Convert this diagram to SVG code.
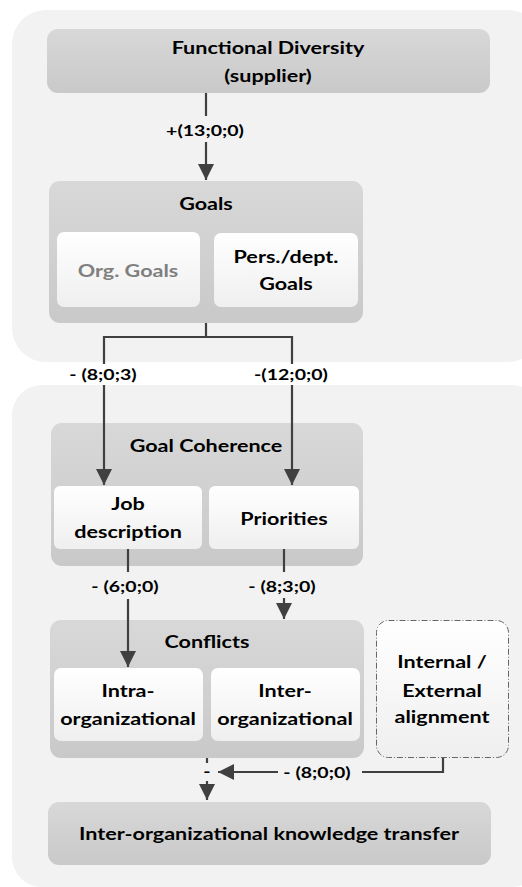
<svg xmlns="http://www.w3.org/2000/svg" width="522" height="887" viewBox="0 0 522 887">
  <defs>
    <linearGradient id="gGrey" x1="0" y1="0" x2="0" y2="1">
      <stop offset="0" stop-color="#d8d8d8"/>
      <stop offset="1" stop-color="#c9c9c9"/>
    </linearGradient>
    <linearGradient id="gWhite" x1="0" y1="0" x2="0" y2="1">
      <stop offset="0" stop-color="#ffffff"/>
      <stop offset="1" stop-color="#efefef"/>
    </linearGradient>
    <marker id="arrow" viewBox="0 0 16 16" markerWidth="16" markerHeight="16" refX="16" refY="8" orient="auto" markerUnits="userSpaceOnUse">
      <path d="M0,0 L16,8 L0,16 Z" fill="#404040"/>
    </marker>
    <style>
      .panel { fill: #f2f2f2; }
      .box { fill: url(#gGrey); }
      .inner { fill: url(#gWhite); }
      .t { font-family: Lato, "Liberation Sans", sans-serif; font-weight: bold; font-size: 17.4px; fill: #000; text-anchor: middle; }
      .lbl { font-family: Lato, "Liberation Sans", sans-serif; font-weight: bold; font-size: 15.5px; fill: #000; text-anchor: middle; }
      .muted { fill: #7f7f7f; }
      .line { fill: none; stroke: #404040; stroke-width: 2.2; }
    </style>
  </defs>

  <!-- background panels -->
  <rect class="panel" x="12" y="10" width="530" height="352" rx="34"/>
  <rect class="panel" x="12" y="385" width="530" height="502" rx="30"/>

  <!-- titles use a wide set: each text is placed by translate(centre, baseline) and widened -->
  <g id="functional-diversity">
    <rect class="box" x="47" y="29" width="443" height="64" rx="11"/>
    <text class="t" transform="translate(268 54) scale(1.24 1)">Functional Diversity</text>
    <text class="t" transform="translate(268 82) scale(1.24 1)">(supplier)</text>
  </g>

  <g id="goals">
    <rect class="box" x="49" y="181" width="314" height="142" rx="11"/>
    <text class="t" transform="translate(206 210) scale(1.24 1)">Goals</text>
    <rect class="inner" x="57" y="232" width="143" height="75" rx="7"/>
    <text class="t muted" transform="translate(128 277) scale(1.24 1)">Org. Goals</text>
    <rect class="inner" x="214" y="233" width="144" height="74" rx="7"/>
    <text class="t" transform="translate(286 263) scale(1.24 1)">Pers./dept.</text>
    <text class="t" transform="translate(286 290) scale(1.24 1)">Goals</text>
  </g>

  <g id="goal-coherence">
    <rect class="box" x="51" y="423" width="312" height="143" rx="11"/>
    <text class="t" transform="translate(206 452) scale(1.24 1)">Goal Coherence</text>
    <rect class="inner" x="54" y="486" width="148" height="63" rx="6"/>
    <text class="t" transform="translate(128 510) scale(1.24 1)">Job</text>
    <text class="t" transform="translate(128 538) scale(1.24 1)">description</text>
    <rect class="inner" x="209" y="486" width="150" height="63" rx="6"/>
    <text class="t" transform="translate(284 525) scale(1.24 1)">Priorities</text>
  </g>

  <g id="conflicts">
    <rect class="box" x="50" y="620" width="314" height="138" rx="11"/>
    <text class="t" transform="translate(207 648) scale(1.24 1)">Conflicts</text>
    <rect class="inner" x="54" y="668" width="149" height="73" rx="7"/>
    <text class="t" transform="translate(128 697) scale(1.24 1)">Intra-</text>
    <text class="t" transform="translate(128 725) scale(1.24 1)">organizational</text>
    <rect class="inner" x="211" y="668" width="149" height="73" rx="7"/>
    <text class="t" transform="translate(285 697) scale(1.24 1)">Inter-</text>
    <text class="t" transform="translate(285 725) scale(1.24 1)">organizational</text>
  </g>

  <g id="alignment">
    <rect class="inner" x="376.5" y="620.5" width="132" height="137" rx="12" stroke="#666666" stroke-width="1" stroke-dasharray="6 2 1 2"/>
    <text class="t" transform="translate(442 668) scale(1.24 1)">Internal /</text>
    <text class="t" transform="translate(442 697) scale(1.24 1)">External</text>
    <text class="t" transform="translate(442 723) scale(1.24 1)">alignment</text>
  </g>

  <g id="knowledge-transfer">
    <rect class="box" x="48" y="802" width="443" height="63" rx="11"/>
    <text class="t" transform="translate(269 840) scale(1.24 1)">Inter-organizational knowledge transfer</text>
  </g>

  <g id="connectors">
    <!-- Functional Diversity to Goals -->
    <line class="line" x1="206" y1="93" x2="206" y2="116"/>
    <line class="line" x1="206" y1="142" x2="206" y2="180" marker-end="url(#arrow)"/>
    <text class="lbl" transform="translate(205 136) scale(1.26 1)">+(13;0;0)</text>

    <!-- Goals split -->
    <polyline class="line" points="206,323 206,337 104,337 104,364"/>
    <polyline class="line" points="206,337 292,337 292,364"/>
    <text class="lbl" transform="translate(103 380) scale(1.26 1)">- (8;0;3)</text>
    <text class="lbl" transform="translate(291 380) scale(1.26 1)">-(12;0;0)</text>
    <line class="line" x1="104" y1="385" x2="104" y2="485" marker-end="url(#arrow)"/>
    <line class="line" x1="292" y1="385" x2="292" y2="485" marker-end="url(#arrow)"/>

    <!-- Goal Coherence to Conflicts -->
    <line class="line" x1="128" y1="549" x2="128" y2="572"/>
    <text class="lbl" transform="translate(125 592) scale(1.26 1)">- (6;0;0)</text>
    <line class="line" x1="128" y1="599" x2="128" y2="667" marker-end="url(#arrow)"/>
    <line class="line" x1="284" y1="549" x2="284" y2="572"/>
    <text class="lbl" transform="translate(282 592) scale(1.26 1)">- (8;3;0)</text>
    <line class="line" x1="284" y1="598" x2="284" y2="619" marker-end="url(#arrow)"/>

    <!-- Alignment to the transfer link -->
    <polyline class="line" points="443,758 443,772 362,772"/>
    <text class="lbl" transform="translate(317 778) scale(1.26 1)">- (8;0;0)</text>
    <line class="line" x1="278" y1="772" x2="218" y2="772" marker-end="url(#arrow)"/>

    <!-- Conflicts to knowledge transfer -->
    <line class="line" x1="207" y1="758" x2="207" y2="763"/>
    <text class="lbl" transform="translate(207 777) scale(1.26 1)">-</text>
    <line class="line" x1="207" y1="781" x2="207" y2="800" marker-end="url(#arrow)"/>
  </g>
</svg>
